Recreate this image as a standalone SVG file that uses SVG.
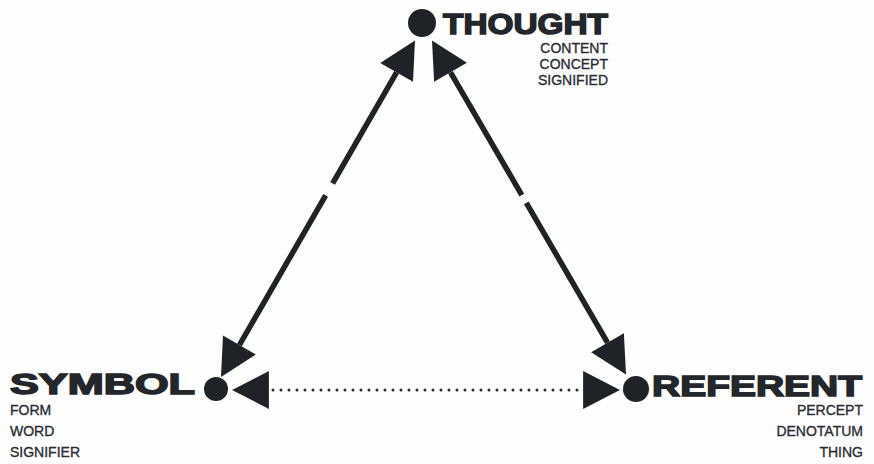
<svg xmlns="http://www.w3.org/2000/svg" width="874" height="464" viewBox="0 0 874 464">
<style>
.big{font-family:"Liberation Sans",Arial,sans-serif;font-weight:bold;font-size:29px;fill:#23262b;stroke:#23262b;stroke-width:1.5px}
.sm{font-family:"Liberation Sans",Arial,sans-serif;font-size:14px;fill:#2a2d33;stroke:#2a2d33;stroke-width:0.35px}
.dot{fill:#1f2226}
.ln{stroke:#1f2226;stroke-width:5.5;fill:none}
.dotted{stroke:#2a2d33;stroke-width:3;stroke-linecap:round;stroke-dasharray:0 8;fill:none}
</style>
<defs>
<marker id="ah" markerUnits="userSpaceOnUse" markerWidth="40" markerHeight="40" viewBox="0 -19 36 38" refX="0" refY="0" orient="auto-start-reverse">
<path d="M0,-18 L35,0 L0,18 Z" fill="#1f2226"/>
</marker>
</defs>
<rect width="874" height="464" fill="#fefefe"/>
<g id="connectors">
<path class="ln" d="M396.6,72.4 L239.4,345" stroke-dasharray="128 14 400" marker-start="url(#ah)" marker-end="url(#ah)"/>
<path class="ln" d="M450.5,72.3 L607.5,342.7" stroke-dasharray="142 9 400" marker-start="url(#ah)" marker-end="url(#ah)"/>
<path class="dotted" d="M273,390 L581,390"/>
<path d="M269,390 L269.1,390" stroke="none" marker-end="url(#ah)" transform="rotate(180 269 390)" fill="none"/>
<path d="M583,390 L583.1,390" stroke="none" marker-end="url(#ah)" fill="none"/>
</g>
<g id="thought">
<circle class="dot" cx="422" cy="23" r="14"/>
<text class="big" x="443" y="34" textLength="165" lengthAdjust="spacingAndGlyphs">THOUGHT</text>
<text class="sm" x="608" y="53" text-anchor="end">CONTENT</text>
<text class="sm" x="608" y="69" text-anchor="end">CONCEPT</text>
<text class="sm" x="608" y="85" text-anchor="end">SIGNIFIED</text>
</g>
<g id="symbol">
<circle class="dot" cx="216" cy="389" r="12"/>
<text class="big" x="10" y="394" textLength="185" lengthAdjust="spacingAndGlyphs">SYMBOL</text>
<text class="sm" x="10" y="415">FORM</text>
<text class="sm" x="10" y="436">WORD</text>
<text class="sm" x="10" y="457">SIGNIFIER</text>
</g>
<g id="referent">
<circle class="dot" cx="636" cy="389" r="13"/>
<text class="big" x="652" y="396" textLength="210" lengthAdjust="spacingAndGlyphs">REFERENT</text>
<text class="sm" x="863" y="415" text-anchor="end">PERCEPT</text>
<text class="sm" x="863" y="436" text-anchor="end">DENOTATUM</text>
<text class="sm" x="863" y="457" text-anchor="end">THING</text>
</g>
</svg>
